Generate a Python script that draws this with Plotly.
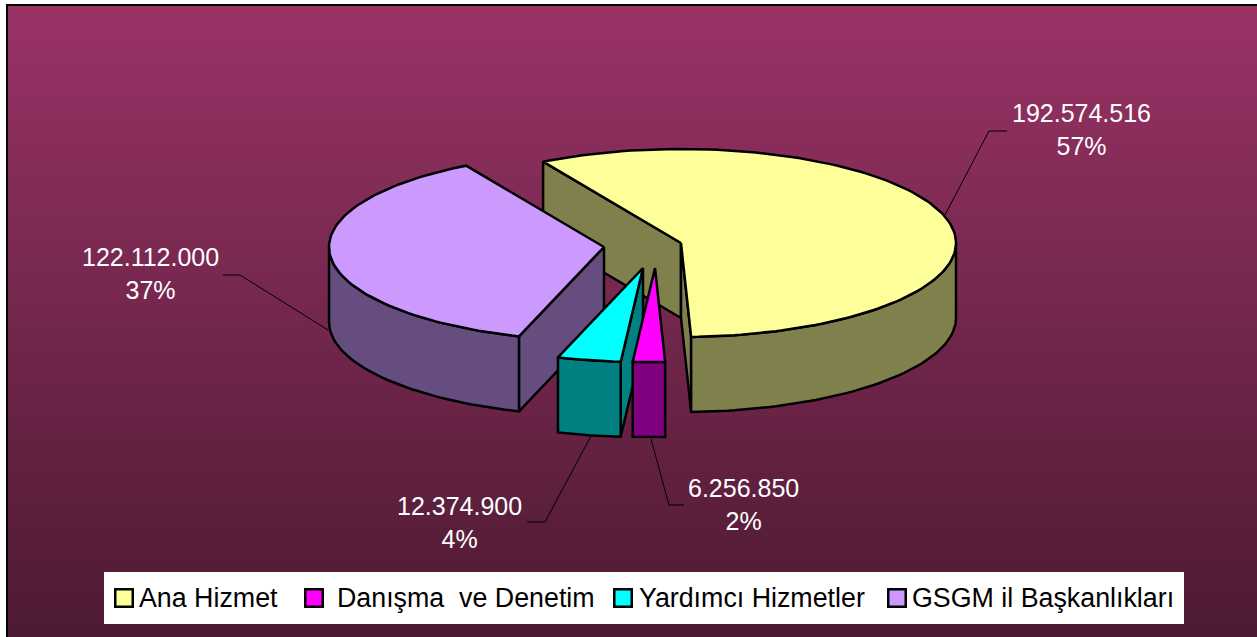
import math
import plotly.graph_objects as go

# --- data ---
categories = ["Ana Hizmet", "Danışma  ve Denetim", "Yardımcı Hizmetler", "GSGM il Başkanlıkları"]
values = [192574516, 6256850, 12374900, 122112000]
value_labels = ["192.574.516", "6.256.850", "12.374.900", "122.112.000"]
percent_labels = ["57%", "2%", "4%", "37%"]

# --- styles ---
top_colors = ["#FFFF99", "#FF00FF", "#00FFFF", "#CC99FF"]
side_colors = ["#80804D", "#800080", "#008080", "#664D80"]

# --- layout geometry (pixels of the 1257x637 page) ---
W, H = 1257, 637
RX, RY, DEPTH = 275, 94, 75
START_DEG = -30.1
centers = [(681, 243), (655, 268), (643, 268), (604, 247)]
draw_order = [0, 3, 2, 1]
label_pos = [(1081, 129.5), (743, 504.5), (459, 522.5), (150, 273.5)]
leaders = [
    ([945, 989, 1007], [215, 131, 131]),
    ([651, 669, 684], [439, 505, 505]),
    ([591, 545, 527], [436, 522, 522]),
    ([328, 240, 223], [330, 275, 275]),
]
legend_sq_x = [124, 314, 622.5, 897]
legend_txt_x = [139, 337, 639, 912]
legend_y = 598
FONT = "Liberation Sans"
LW = 2.5

total = sum(values)
angles = [START_DEG]
for v in values:
    angles.append(angles[-1] + 360 * v / total)


def pt(c, deg, dy=0):
    a = math.radians(deg)
    return c[0] + RX * math.sin(a), c[1] - RY * math.cos(a) + dy


def poly(xs, ys, fill, name):
    return go.Scatter(x=xs + xs[:1], y=ys + ys[:1], mode="lines", fill="toself", fillcolor=fill,
                      line=dict(color="black", width=LW), showlegend=False, hoverinfo="skip", name=name)


fig = go.Figure()

# gradient background
N = 160
fig.add_trace(go.Heatmap(
    z=[[i / (N - 1)] for i in range(N)],
    x=[7, W], y=[5 + (H - 5) * i / N for i in range(N + 1)],
    colorscale=[[0, "#993366"], [1, "#4D1A33"]], showscale=False, hoverinfo="skip"))
fig.add_trace(go.Scatter(x=[7, 7, W], y=[H, 5, 5], mode="lines", line=dict(color="black", width=2),
                         showlegend=False, hoverinfo="skip"))

for i in draw_order:
    c = centers[i]
    a0, a1 = angles[i], angles[i + 1]
    steps = max(4, int((a1 - a0) / 1.5))
    arc = [a0 + (a1 - a0) * k / steps for k in range(steps + 1)]
    # flat cut faces, where they turn towards the viewer
    if -math.cos(math.radians(a0 - 90)) > 0:
        p = pt(c, a0)
        fig.add_trace(poly([c[0], p[0], p[0], c[0]], [c[1], p[1], p[1] + DEPTH, c[1] + DEPTH], side_colors[i], categories[i]))
    if -math.cos(math.radians(a1 + 90)) > 0:
        p = pt(c, a1)
        fig.add_trace(poly([c[0], p[0], p[0], c[0]], [c[1], p[1], p[1] + DEPTH, c[1] + DEPTH], side_colors[i], categories[i]))
    # outer wall: the part of the rim on the near half
    lo, hi = max(a0, 90), min(a1, 270)
    if hi > lo:
        n = max(2, int((hi - lo) / 1.5))
        wall = [lo + (hi - lo) * k / n for k in range(n + 1)]
        up = [pt(c, a) for a in wall]
        dn = [pt(c, a, DEPTH) for a in reversed(wall)]
        fig.add_trace(poly([q[0] for q in up + dn], [q[1] for q in up + dn], side_colors[i], categories[i]))
    # top face
    rim = [pt(c, a) for a in arc]
    fig.add_trace(poly([c[0]] + [q[0] for q in rim], [c[1]] + [q[1] for q in rim], top_colors[i], categories[i]))

# leader lines
for lx, ly in leaders:
    fig.add_trace(go.Scatter(x=lx, y=ly, mode="lines", line=dict(color="black", width=1),
                             showlegend=False, hoverinfo="skip"))

annotations = []
for (x, y), v, p in zip(label_pos, value_labels, percent_labels):
    annotations.append(dict(x=x, y=y, xref="x", yref="y", text=f"{v}<br>{p}", showarrow=False, align="center",
                            font=dict(family=FONT, size=25, color="white")))

# legend band
shapes = [dict(type="rect", x0=104, x1=1184, y0=572, y1=624, xref="x", yref="y", fillcolor="white",
               line=dict(width=0), layer="above")]
for sx, tx, name, col in zip(legend_sq_x, legend_txt_x, categories, top_colors):
    annotations.append(dict(x=tx, y=legend_y, xref="x", yref="y", text=name, showarrow=False, xanchor="left",
                            xshift=-2, font=dict(family=FONT, size=26.8, color="black")))
    annotations.append(dict(x=sx, y=legend_y, xref="x", yref="y", text="", showarrow=False, width=15, height=15,
                            bgcolor=col, bordercolor="black", borderwidth=2.5, borderpad=0))

fig.update_layout(
    width=W, height=H, autosize=False, margin=dict(l=0, r=0, t=0, b=0),
    paper_bgcolor="white", plot_bgcolor="white",
    xaxis=dict(range=[0, W], visible=False, fixedrange=True),
    yaxis=dict(range=[H, 0], visible=False, fixedrange=True),
    shapes=shapes, annotations=annotations,
)
fig.write_html("out.html", config=dict(displayModeBar=False),
               post_script="document.body.style.margin='0';document.documentElement.style.overflow='hidden';")
